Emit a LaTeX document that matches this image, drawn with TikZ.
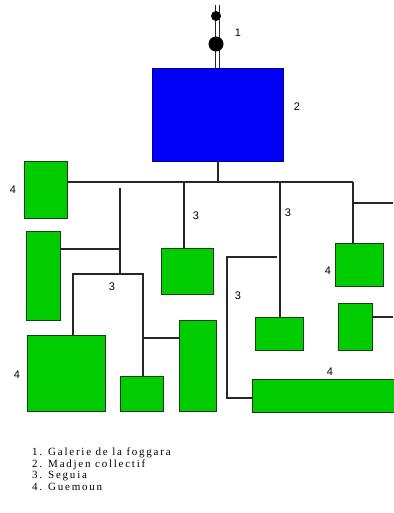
\documentclass[tikz,border=0pt]{standalone}
\usepackage{fontspec}
\setmainfont{Liberation Serif}
\newfontfamily\labfont{Liberation Sans}
\newfontfamily\legfont[LetterSpace=16]{Liberation Serif}
\definecolor{gfill}{RGB}{0,204,0}
\definecolor{gline}{RGB}{25,60,25}
\definecolor{bfill}{RGB}{0,0,250}
\definecolor{bline}{RGB}{0,0,150}
\begin{document}
\begin{tikzpicture}[x=1pt,y=-1pt,
  gbox/.style={draw=gline,fill=gfill,line width=0.9pt,inner sep=0,outer sep=0},
  bbox/.style={draw=bline,fill=bfill,line width=0.9pt,inner sep=0,outer sep=0},
  conn/.style={line width=1.2pt,black!85},
  lab/.style={font=\labfont\fontsize{11}{13}\selectfont,inner sep=0},
  leg/.style={font=\legfont\fontsize{11}{12}\selectfont,inner sep=0,anchor=west}]
\useasboundingbox (0,0) rectangle (393,513);
% boxes
\node[bbox,minimum width=131,minimum height=93] (B) at (217.5,114.5) {};
\node[gbox,minimum width=43,minimum height=57] (g1) at (45.5,189.5) {};
\node[gbox,minimum width=34,minimum height=89] (g2) at (43,275.5) {};
\node[gbox,minimum width=78,minimum height=76] (g3) at (66,373) {};
\node[gbox,minimum width=43,minimum height=35] (g4) at (141.5,393.5) {};
\node[gbox,minimum width=37,minimum height=91] (g5) at (197.5,365.5) {};
\node[gbox,minimum width=52,minimum height=46] (g6) at (187,271) {};
\node[gbox,minimum width=48,minimum height=33] (g7) at (279,333.5) {};
\node[gbox,minimum width=148,minimum height=33] (g8) at (326,395.5) {};
\node[gbox,minimum width=48,minimum height=43] (g9) at (359,264.5) {};
\node[gbox,minimum width=34,minimum height=47] (g10) at (355,326.5) {};
% galerie
\coordinate (gtop) at (217,5);
\draw[conn,line width=0.9pt] ([xshift=-2]gtop) -- ([xshift=-2]gtop |- B.north);
\draw[conn,line width=0.9pt] ([xshift=2]gtop) -- ([xshift=2]gtop |- B.north);
\node[circle,fill=black,minimum size=10,inner sep=0] (d1) at (216,16) {};
\node[circle,fill=black,minimum size=15,inner sep=0] (d2) at (216,44) {};
% bus
\coordinate (busR) at (353,182);
\coordinate (bc) at (218,161);
\draw[conn] (g1.east |- busR) -- (busR);
\draw[conn] (bc |- B.south) -- (bc |- busR);
% left tree
\coordinate (v1a) at (120,188);
\coordinate (v1b) at (120,274);
\draw[conn] (v1a) -- (v1b);
\draw[conn] (g2.east |- 0,249) -- (v1a |- 0,249);
\coordinate (hL) at (73,274);
\coordinate (hR) at (143,274);
\draw[conn] (hL |- g3.north) -- (hL) -- (hR) -- (hR |- g4.north);
\draw[conn] (hR |- 0,338) -- (g5.west |- 0,338);
% centre
\coordinate (c1) at (184,182);
\draw[conn] (c1) -- (c1 |- g6.north);
\coordinate (c2) at (280,182);
\draw[conn] (c2) -- (c2 |- g7.north);
\coordinate (c3) at (227,257);
\coordinate (c3r) at (277,257);
\draw[conn] (c3r) -- (c3) -- (c3 |- 0,398) -- (g8.west |- 0,398);
% right
\draw[conn] (busR) -- (busR |- g9.north);
\coordinate (r1) at (393,203);
\draw[conn] (busR |- r1) -- (r1);
\coordinate (r2) at (393,317);
\draw[conn] (g10.east |- r2) -- (r2);
% labels
\node[lab] (l1) at (238,33) {1};
\node[lab] (l2) at (297,107) {2};
\node[lab] (l3a) at (196,216) {3};
\node[lab] (l3b) at (288,213) {3};
\node[lab] (l3c) at (112,287) {3};
\node[lab] (l3d) at (238,296) {3};
\node[lab] (l4a) at (13,190) {4};
\node[lab] (l4b) at (17,375) {4};
\node[lab] (l4c) at (328,271) {4};
\node[lab] (l4d) at (330,372) {4};
% legend
\node[leg] (t1) at (32,453) {1. Galerie de la foggara};
\node[leg] (t2) at (32,465) {2. Madjen collectif};
\node[leg] (t3) at (32,476) {3. Seguia};
\node[leg] (t4) at (32,487) {4. Guemoun};
\end{tikzpicture}
\end{document}
